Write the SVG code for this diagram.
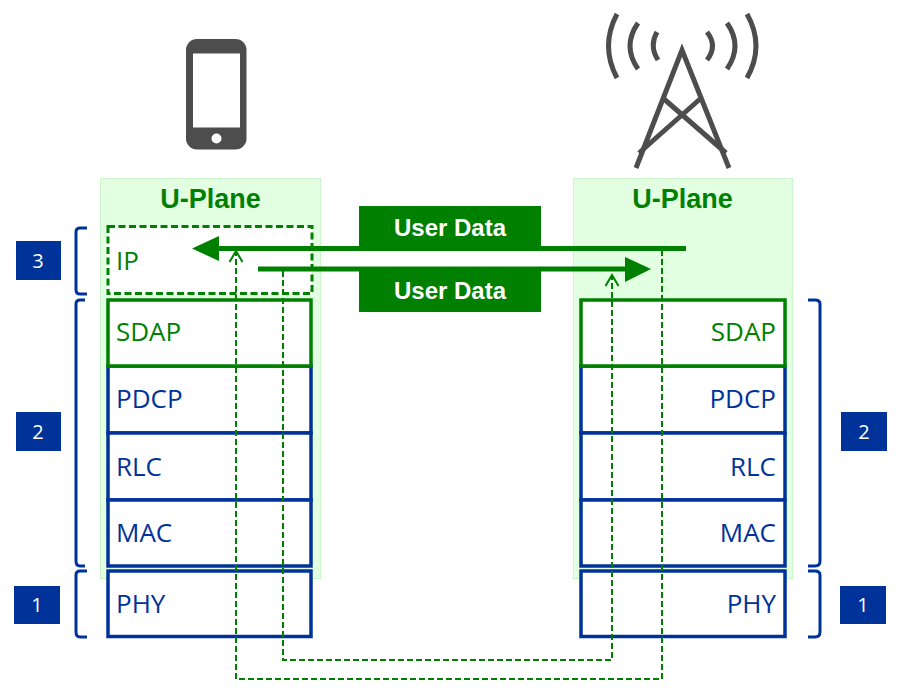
<svg xmlns="http://www.w3.org/2000/svg" width="900" height="700" viewBox="0 0 900 700">
  <defs>
    <style>
      .panel { fill: #e2ffe2; stroke: #ccf7cc; stroke-width: 1; }
      .layer { fill: #fff; stroke: #003399; stroke-width: 3.5; }
      .sdap { fill: #fff; stroke: #008000; stroke-width: 3.5; }
      .ip { fill: #fff; stroke: #008000; stroke-width: 3; stroke-dasharray: 7 3.5; }
      .lbl { font-family: "Open Sans", "Liberation Sans", sans-serif; font-size: 26px; fill: #003399; }
      .lbl.g { fill: #008000; }
      .end { text-anchor: end; }
      .title { font-family: "Liberation Sans", Arial, sans-serif; font-weight: bold; font-size: 27px; fill: #008000; text-anchor: middle; }
      .data { font-family: "Liberation Sans", Arial, sans-serif; font-weight: bold; font-size: 24px; fill: #fff; text-anchor: middle; }
      .num { fill: #003399; }
      .numt { font-family: "Open Sans", "Liberation Sans", sans-serif; font-size: 20px; fill: #fff; text-anchor: middle; }
      .br { fill: none; stroke: #003399; stroke-width: 3; }
      .ic { fill: none; stroke: #4d4d4d; }
      .flow { fill: none; stroke: #008000; stroke-width: 5; }
      .dash { fill: none; stroke: #008000; stroke-width: 2; stroke-dasharray: 6 3; }
      .tip { fill: none; stroke: #008000; stroke-width: 2; }
    </style>
  </defs>

  <g id="phone">
    <rect x="186" y="39" width="60.500" height="110.500" rx="11" fill="#4d4d4d"/>
    <rect x="193" y="53.500" width="47" height="74" fill="#fff"/>
    <circle cx="216.500" cy="138.500" r="5" fill="#fff"/>
  </g>

  <g id="tower">
    <path class="ic" stroke-width="5" stroke-miterlimit="20" d="M636,168 L682,50 L729,168"/>
    <path class="ic" stroke-width="5" d="M664,99 L726,153 M700,99 L639,153"/>
    <path class="ic" stroke-width="5" d="M617,14 Q600,46 617,78 M638,23 Q622,46 638,69 M657,32 Q649,46 658,60 M747,14 Q765,46 747,78 M727,23 Q743,46 727,69 M707,32 Q718,46 707,60"/>
  </g>

  <g id="ue-plane">
    <rect class="panel" x="100.500" y="178.500" width="220" height="400"/>
    <text class="title" x="210.500" y="208">U-Plane</text>
  </g>
  <g id="gnb-plane">
    <rect class="panel" x="573.500" y="178.500" width="219" height="400"/>
    <text class="title" x="682.500" y="208">U-Plane</text>
  </g>

  <g id="ue-ip"><rect class="ip" x="108" y="226.500" width="204" height="67"/><text class="lbl g" x="116" y="270">IP</text></g>
  <g id="ue-pdcp"><rect class="layer" x="108" y="366" width="203" height="67"/><text class="lbl" x="116" y="408">PDCP</text></g>
  <g id="ue-rlc"><rect class="layer" x="108" y="433" width="203" height="67"/><text class="lbl" x="116" y="476">RLC</text></g>
  <g id="ue-mac"><rect class="layer" x="108" y="500" width="203" height="66"/><text class="lbl" x="116" y="542">MAC</text></g>
  <g id="ue-sdap"><rect class="sdap" x="108" y="300" width="203" height="66"/><text class="lbl g" x="116" y="341">SDAP</text></g>
  <g id="ue-phy"><rect class="layer" x="108" y="571" width="203" height="65.500"/><text class="lbl" x="116" y="613">PHY</text></g>

  <g id="gnb-pdcp"><rect class="layer" x="581" y="366" width="204" height="67"/><text class="lbl end" x="776" y="408">PDCP</text></g>
  <g id="gnb-rlc"><rect class="layer" x="581" y="433" width="204" height="67"/><text class="lbl end" x="776" y="476">RLC</text></g>
  <g id="gnb-mac"><rect class="layer" x="581" y="500" width="204" height="66"/><text class="lbl end" x="776" y="542">MAC</text></g>
  <g id="gnb-sdap"><rect class="sdap" x="581" y="300" width="204" height="66"/><text class="lbl g end" x="776" y="341">SDAP</text></g>
  <g id="gnb-phy"><rect class="layer" x="581" y="571" width="204" height="65.500"/><text class="lbl end" x="776" y="613">PHY</text></g>

  <g id="data-down"><rect x="359" y="206" width="182" height="44" fill="#008000"/><text class="data" x="450" y="236">User Data</text></g>
  <g id="data-up"><rect x="359" y="268" width="182" height="44" fill="#008000"/><text class="data" x="450" y="299">User Data</text></g>

  <g id="layer-brackets">
    <path class="br" d="M87,228 H80 Q76,228 76,232 V290 Q76,294 80,294 H87"/>
    <path class="br" d="M85,300 H80 Q76,300 76,304 V561 Q76,566 80,566 H85"/>
    <path class="br" d="M87,571 H80 Q76,571 76,575 V632 Q76,637 80,637 H87"/>
    <path class="br" d="M808,300 H815 Q820,300 820,304 V561 Q820,566 815,566 H808"/>
    <path class="br" d="M808,571 H815 Q820,571 820,575 V632 Q820,637 815,637 H808"/>
  </g>

  <g id="badge-3-left"><rect class="num" x="16" y="241" width="45" height="39"/><text class="numt" x="38" y="268">3</text></g>
  <g id="badge-2-left"><rect class="num" x="16" y="412" width="45" height="39"/><text class="numt" x="38" y="439">2</text></g>
  <g id="badge-1-left"><rect class="num" x="14" y="586" width="46" height="38"/><text class="numt" x="37" y="612">1</text></g>
  <g id="badge-2-right"><rect class="num" x="841" y="412" width="46" height="39"/><text class="numt" x="864" y="439">2</text></g>
  <g id="badge-1-right"><rect class="num" x="840" y="586" width="46" height="38"/><text class="numt" x="863" y="612">1</text></g>

  <g id="connectors">
    <path class="dash" d="M662,250 V679 H236 V252"/>
    <path class="tip" d="M229.500,262 L236,251 L242.500,262"/>
    <path class="dash" d="M283,271 V660 H612 V276"/>
    <path class="tip" d="M605.500,286 L612,275 L618.500,286"/>
    <path class="flow" d="M686,248.500 H216"/>
    <polygon points="192,248.500 219,236 219,261" fill="#008000"/>
    <path class="flow" d="M258,269 H627"/>
    <polygon points="651,269 625,257 625,282" fill="#008000"/>
  </g>
</svg>
